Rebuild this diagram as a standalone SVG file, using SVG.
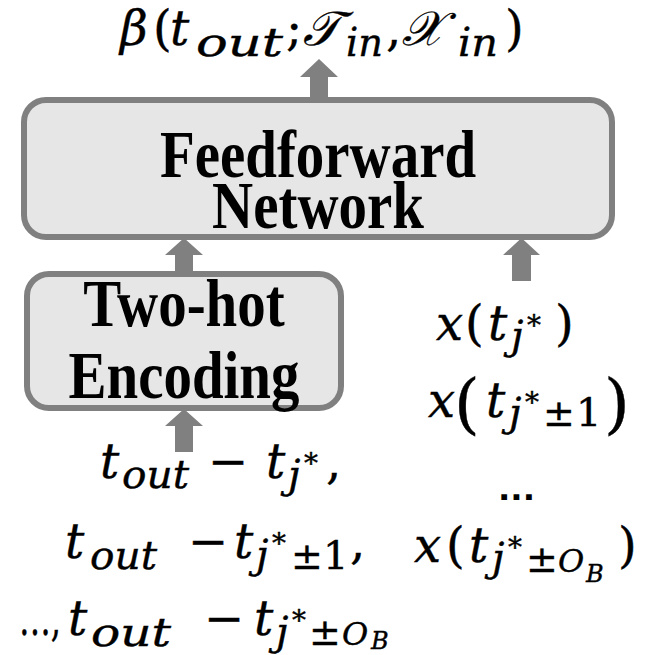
<svg xmlns="http://www.w3.org/2000/svg" width="656" height="655" viewBox="0 0 656 655">
<style>
.box{fill:#e6e6e6;stroke:#808080;stroke-width:6}
.arr{fill:#808080;stroke:none}
.lbl{font-family:"Liberation Serif","Times New Roman",serif;font-weight:bold;font-size:67px;fill:#000;text-anchor:middle}
.m{font-family:"DejaVu Serif",serif;font-style:italic;font-size:48px;fill:#000;stroke:#000;stroke-width:0.4}
.u{font-style:normal}
.s{font-size:40px}
.ss{font-size:24px}
.st{font-size:28px;font-style:normal}
.pm{font-size:38px;font-style:normal}
.big{font-size:66px;font-style:normal}
.dots{font-family:"DejaVu Sans",sans-serif;font-weight:bold;font-size:30px;fill:#000}
</style>
<rect width="656" height="655" fill="#fff"/>
<g id="connectors">
<polygon class="arr" points="310,100 310,77 300,77 319,59 338,77 328,77 328,100"/>
<polygon class="arr" points="175,274 175,255 165,255 184,238 203,255 193,255 193,274"/>
<polygon class="arr" points="512,281 512,255 503,255 521.5,238 540,255 531,255 531,281"/>
<polygon class="arr" points="175,452 175,426 165,426 184,409 203,426 193,426 193,452"/>
</g>
<g id="feedforward">
<rect class="box" x="24" y="100" width="588" height="137" rx="22"/>
<text class="lbl" transform="translate(318 177) scale(0.85 1)"><tspan x="0" y="0">Feedforward</tspan><tspan x="0" y="51">Network</tspan></text>
</g>
<g id="twohot">
<rect class="box" x="27" y="274" width="314" height="134" rx="22"/>
<text class="lbl" transform="translate(184 326) scale(0.85 1)"><tspan x="0" y="0">Two-hot</tspan><tspan x="0" y="72">Encoding</tspan></text>
</g>
<g id="output">
<text class="m"><tspan x="120" y="45">β</tspan><tspan class="u" x="153" y="45">(</tspan><tspan x="170" y="45">t</tspan><tspan class="s" x="196" y="56" textLength="87" lengthAdjust="spacingAndGlyphs">out</tspan><tspan class="u" x="286" y="45">;</tspan><tspan x="303" y="45">𝒯</tspan><tspan class="s" x="346" y="56" textLength="37" lengthAdjust="spacingAndGlyphs">in</tspan><tspan class="u" x="386" y="45">,</tspan><tspan x="402" y="45">𝒳</tspan><tspan class="s" x="458" y="56" textLength="40" lengthAdjust="spacingAndGlyphs">in</tspan><tspan class="u" x="505" y="45">)</tspan></text>
</g>
<g id="x-inputs">
<text class="m"><tspan x="436" y="340">x</tspan><tspan class="u" x="465" y="340">(</tspan><tspan x="488" y="340">t</tspan><tspan class="s" x="511" y="349">j</tspan><tspan class="st" x="527" y="335">*</tspan><tspan class="u" x="555" y="340">)</tspan></text>
<text class="m"><tspan x="428" y="417">x</tspan><tspan class="big" x="454" y="426">(</tspan><tspan x="486" y="417">t</tspan><tspan class="s" x="509" y="426">j</tspan><tspan class="st" x="525" y="412">*</tspan><tspan class="pm" x="543" y="426">±</tspan><tspan class="s u" x="576" y="426">1</tspan><tspan class="big" x="604" y="426">)</tspan></text>
<text class="dots" x="498" y="500" textLength="37" lengthAdjust="spacingAndGlyphs">...</text>
<text class="m"><tspan x="414" y="562">x</tspan><tspan class="u" x="446" y="562">(</tspan><tspan x="469" y="562">t</tspan><tspan class="s" x="492" y="571">j</tspan><tspan class="st" x="508" y="557">*</tspan><tspan class="pm" x="526" y="572">±</tspan><tspan class="s" x="558" y="572" style="font-size:32px">O</tspan><tspan class="ss" x="586" y="582">B</tspan><tspan class="u" x="618" y="562">)</tspan></text>
</g>
<g id="t-inputs">
<text class="m"><tspan x="100" y="478">t</tspan><tspan class="s" x="122" y="488" textLength="67" lengthAdjust="spacingAndGlyphs">out</tspan><tspan class="u" x="208" y="478">−</tspan><tspan x="266" y="478">t</tspan><tspan class="s" x="288" y="488">j</tspan><tspan class="st" x="304" y="473">*</tspan><tspan class="u" x="326" y="478">,</tspan></text>
<text class="m"><tspan x="65" y="558">t</tspan><tspan class="s" x="90" y="569" textLength="67" lengthAdjust="spacingAndGlyphs">out</tspan><tspan class="u" x="188" y="558">−</tspan><tspan x="234" y="558">t</tspan><tspan class="s" x="256" y="568">j</tspan><tspan class="st" x="272" y="553">*</tspan><tspan class="pm" x="291" y="569">±</tspan><tspan class="s u" x="323" y="569">1</tspan><tspan class="u" x="350" y="558">,</tspan></text>
<text class="m"><tspan class="u" x="19" y="635" textLength="42" lengthAdjust="spacingAndGlyphs">…,</tspan><tspan x="68" y="635">t</tspan><tspan class="s" x="91" y="646" textLength="80" lengthAdjust="spacingAndGlyphs">out</tspan><tspan class="u" x="204" y="635">−</tspan><tspan x="254" y="635">t</tspan><tspan class="s" x="276" y="645">j</tspan><tspan class="st" x="292" y="630">*</tspan><tspan class="pm" x="309" y="645">±</tspan><tspan class="s" x="342" y="645" style="font-size:32px">O</tspan><tspan class="ss" x="371" y="649">B</tspan></text>
</g>
</svg>
